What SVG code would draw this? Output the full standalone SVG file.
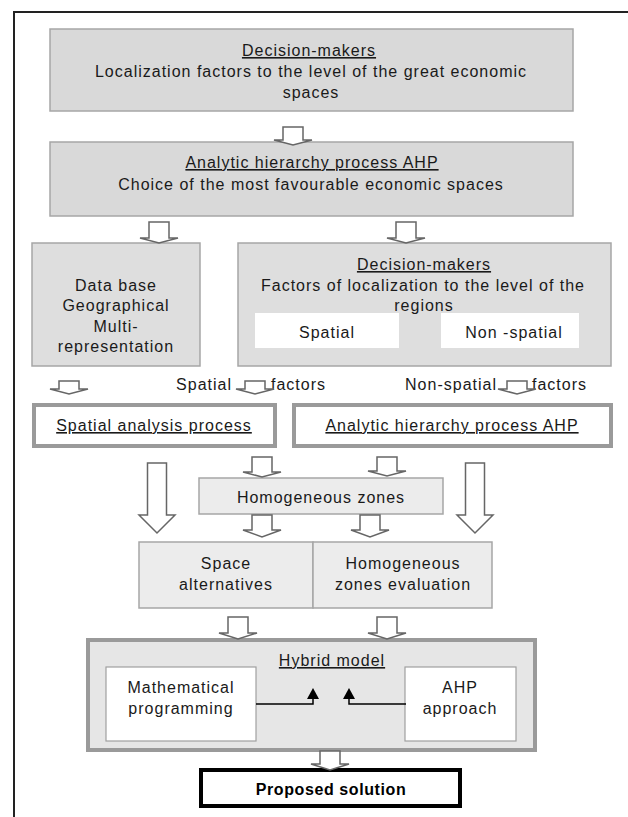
<svg xmlns="http://www.w3.org/2000/svg" width="628" height="817" viewBox="0 0 628 817">
<style>
text{font-family:"Liberation Sans",Arial,sans-serif;font-size:16px;fill:#1a1a1a;letter-spacing:1px;text-anchor:middle}
.u{text-decoration:underline}
.b{font-weight:bold;font-size:16px;letter-spacing:0.6px;fill:#000}
.s{text-anchor:start}
.e{text-anchor:end}
.g1{fill:#d9d9d9;stroke:#a6a6a6;stroke-width:1.5}
.g2{fill:#dedede;stroke:#a6a6a6;stroke-width:1.5}
.g3{fill:#ececec;stroke:#a6a6a6;stroke-width:1.5}
.w{fill:#fff;stroke:none}
.wb{fill:#fff;stroke:#a0a0a0;stroke-width:1.2}
.thick{fill:#fff;stroke:#9a9a9a;stroke-width:4}
.arr{fill:#fff;stroke:#666;stroke-width:1.5;stroke-linejoin:miter}
.ln{fill:none;stroke:#000;stroke-width:1.5}
</style>
<defs>
<marker id="ah" markerWidth="11" markerHeight="12" refX="0" refY="6" orient="auto" markerUnits="userSpaceOnUse" viewBox="0 0 11 12">
<path d="M0,0 L11,6 L0,12 Z" fill="#000"/>
</marker>
</defs>
<rect width="628" height="817" fill="#fff"/>
<g id="frame">
<path d="M14,817 V12 H628" fill="none" stroke="#222" stroke-width="2"/>
</g>

<g id="n1">
<rect class="g1" x="50" y="29" width="523" height="82"/>
<text class="u" x="309" y="56">Decision-makers</text>
<text x="311" y="77">Localization factors to the level of the great economic</text>
<text x="311" y="98">spaces</text>
</g>

<g id="n2">
<rect class="g1" x="50" y="142" width="523" height="74"/>
<text class="u" x="312" y="168">Analytic hierarchy process AHP</text>
<text x="311" y="190">Choice of the most favourable economic spaces</text>
</g>

<g id="n3">
<rect class="g2" x="32" y="243" width="168" height="123"/>
<text x="116" y="291">Data base</text>
<text x="116" y="311">Geographical</text>
<text x="116" y="332">Multi-</text>
<text x="116" y="352">representation</text>
</g>

<g id="n4">
<rect class="g2" x="238" y="243" width="373" height="123"/>
<text class="u" x="424" y="270">Decision-makers</text>
<text x="423" y="291">Factors of localization to the level of the</text>
<text x="424" y="311">regions</text>
<rect class="w" x="255" y="313" width="144" height="35"/>
<text x="327" y="338">Spatial</text>
<rect class="w" x="441" y="313" width="138" height="35"/>
<text x="514" y="338">Non -spatial</text>
</g>

<g id="labels">
<text class="e" x="232" y="390">Spatial</text>
<text class="s" x="271" y="390">factors</text>
<text class="e" x="497" y="390">Non-spatial</text>
<text class="s" x="532" y="390">factors</text>
</g>

<g id="n5">
<rect class="thick" x="34" y="405" width="241" height="41"/>
<text class="u" x="154" y="431">Spatial analysis process</text>
</g>

<g id="n6">
<rect class="thick" x="294" y="405" width="317" height="41"/>
<text class="u" x="452" y="431">Analytic hierarchy process AHP</text>
</g>

<g id="n7">
<rect class="g3" x="199" y="478" width="244" height="36"/>
<text x="321" y="503">Homogeneous zones</text>
</g>

<g id="n8">
<rect class="g3" x="139" y="542" width="174" height="66"/>
<text x="226" y="569">Space</text>
<text x="226" y="590">alternatives</text>
</g>

<g id="n9">
<rect class="g3" x="313" y="542" width="179" height="66"/>
<text x="403" y="569">Homogeneous</text>
<text x="403" y="590">zones evaluation</text>
</g>

<g id="n10">
<rect x="88" y="640" width="447" height="110" fill="#e6e6e6" stroke="#9a9a9a" stroke-width="4"/>
<text class="u" x="332" y="666">Hybrid model</text>
<rect class="wb" x="106" y="667" width="150" height="74"/>
<text x="181" y="693">Mathematical</text>
<text x="181" y="714">programming</text>
<rect class="wb" x="405" y="667" width="111" height="74"/>
<text x="460" y="693">AHP</text>
<text x="460" y="714">approach</text>
</g>

<g id="n11">
<rect x="201" y="770" width="259" height="36" fill="#fff" stroke="#000" stroke-width="4"/>
<text class="b" x="331" y="795">Proposed solution</text>
</g>

<g id="connectors">
<path class="arr" d="M283,127 H303 V140 H312 L293,145 L274,140 H283 Z"/>
<path class="arr" d="M149,222 H169 V238 H178 L159,243 L140,238 H149 Z"/>
<path class="arr" d="M396,222 H416 V238 H425 L406,243 L387,238 H396 Z"/>
<path class="arr" d="M59,381 H79 V389 H88 L69,394 L50,389 H59 Z"/>
<path class="arr" d="M245,381 H265 V389 H274 L255,394 L236,389 H245 Z"/>
<path class="arr" d="M507,381 H527 V389 H536 L517,394 L498,389 H507 Z"/>
<path class="arr" d="M252,457 H272 V472 H281 L262,477 L243,472 H252 Z"/>
<path class="arr" d="M377,457 H397 V471 H406 L387,476 L368,471 H377 Z"/>
<path class="arr" d="M252,515 H272 V530 H281 L262,537 L243,530 H252 Z"/>
<path class="arr" d="M360,515 H380 V530 H389 L370,537 L351,530 H360 Z"/>
<path class="arr" d="M228,617 H248 V633 H257 L238,639 L219,633 H228 Z"/>
<path class="arr" d="M377,617 H397 V633 H406 L387,639 L368,633 H377 Z"/>
<path class="arr" d="M320,751 H340 V764 H349 L330,770 L311,764 H320 Z"/>
<path class="arr" d="M147.5,463 H166.5 V515 H175 L157,533 L139,515 H147.5 Z"/>
<path class="arr" d="M465.5,463 H484.5 V515 H493 L475,533 L457,515 H465.5 Z"/>
<path class="ln" d="M256,704 H313 V699" marker-end="url(#ah)"/>
<path class="ln" d="M406,704 H349 V699" marker-end="url(#ah)"/>
</g>
</svg>
